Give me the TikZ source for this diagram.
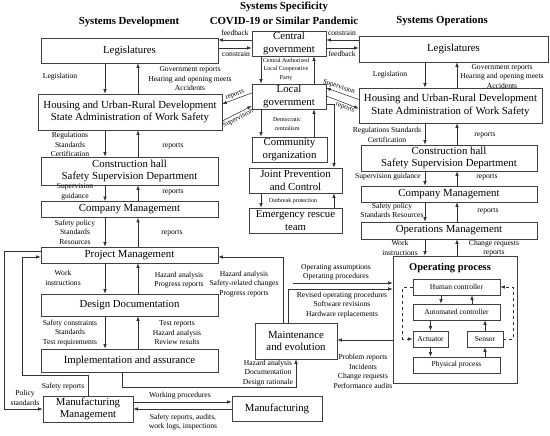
\documentclass[tikz,border=0pt]{standalone}
\usepackage{fontspec}
\setmainfont{Liberation Serif}
\usepackage{tikz}
\usepackage{xcolor}
\usetikzlibrary{arrows.meta}

\tikzset{
  >={Latex[length=4.5pt,width=3.4pt]},
  box/.style={draw=black!75, align=center, inner sep=1pt,
    font=\fontsize{10.8}{12.5}\selectfont},
  inbox/.style={draw=black!75, align=center, inner sep=1pt, minimum height=16,
    font=\fontsize{7.5}{8.5}\selectfont},
  lbl/.style={align=center, inner sep=0pt, font=\fontsize{7.6}{9.5}\selectfont},
  tlbl/.style={align=center, inner sep=0pt, font=\fontsize{6}{8.3}\selectfont},
  rot/.style={inner sep=0pt, font=\fontsize{7}{8}\selectfont},
  ttl/.style={inner sep=0pt, font=\bfseries\fontsize{10.8}{12}\selectfont},
}

\begin{document}
\begin{tikzpicture}[x=1pt,y=-1pt,line width=.55pt,draw=black!80]
  \useasboundingbox (0,0) rectangle (550,436);

  % titles
  \node (tdev) [ttl] at (129,22) {Systems Development};
  \node (tspc) [ttl] at (284,7) {Systems Specificity};
  \node (tcov) [ttl] at (284,21) {COVID-19 or Similar Pandemic};
  \node (tops) [ttl] at (442,21) {Systems Operations};

  % systems development
  \node (legL) [box, minimum width=177, minimum height=25] at (129.5,50.5) {Legislatures};
  \node (hudL) [box, minimum width=184, minimum height=36] at (130,112)
    {Housing and Urban-Rural Development\\State Administration of Work Safety};
  \node (chL) [box, minimum width=177, minimum height=28] at (129.5,171)
    {Construction hall\\Safety Supervision Department};
  \node (cmL) [box, minimum width=177, minimum height=16] at (129.5,209.5) {Company Management};
  \node (pmL) [box, minimum width=177, minimum height=16] at (129.5,255) {Project Management};
  \node (dd) [box, minimum width=177, minimum height=22] at (129.5,305) {Design Documentation};
  \node (ia) [box, minimum width=177, minimum height=23] at (129.5,360.5) {Implementation and assurance};
  \node (mm) [box, minimum width=90, minimum height=26] at (88,409) {Manufacturing\\Management};
  \node (mf) [box, minimum width=90, minimum height=25] at (277,408.5) {Manufacturing};
  \node (me) [box, minimum width=82, minimum height=36] at (296,341) {Maintenance\\and evolution};

  % systems specificity
  \node (cg) [box, minimum width=74, minimum height=25] at (289,43.5) {Central\\government};
  \node (lg) [box, minimum width=74, minimum height=25] at (289,96.5) {Local\\government};
  \node (co) [box, minimum width=75, minimum height=25] at (289.5,149.5) {Community\\organization};
  \node (jpc) [box, minimum width=93, minimum height=25] at (295.5,180.5) {Joint Prevention\\and Control};
  \node (ert) [box, minimum width=93, minimum height=25] at (295.5,220.5) {Emergency rescue\\team};

  % systems operations
  \node (legR) [box, minimum width=189, minimum height=26] at (453.5,49) {Legislatures};
  \node (hudR) [box, minimum width=183, minimum height=35] at (450.5,105.5)
    {Housing and Urban-Rural Development\\State Administration of Work Safety};
  \node (chR) [box, minimum width=176, minimum height=26] at (449,158)
    {Construction hall\\Safety Supervision Department};
  \node (cmR) [box, minimum width=176, minimum height=16] at (449,194) {Company Management};
  \node (omR) [box, minimum width=176, minimum height=17] at (449,230.5) {Operations Management};
  \node (op) [draw=black!75, minimum width=124, minimum height=127] at (455,319.5) {};
  \node (opt) [inner sep=0pt, font=\bfseries\fontsize{10.5}{12}\selectfont] at (450,268) {Operating process};
  \node (hc) [inbox, minimum width=87] at (456.5,287) {Human controller};
  \node (ac) [inbox, minimum width=87] at (456.5,312) {Automated controller};
  \node (act) [inbox, minimum width=35] at (430.5,339) {Actuator};
  \node (sen) [inbox, minimum width=36] at (485,339) {Sensor};
  \node (pp) [inbox, minimum width=87] at (456.5,365) {Physical process};

  \path (105,0) coordinate (dnL) (138,0) coordinate (upL)
    (261,0) coordinate (dnM) (314,0) coordinate (upM) (334,0) coordinate (upJ)
    (425,0) coordinate (dnR) (457,0) coordinate (upR);

  % left column
  \draw[->] (legL.south -| dnL) -- (hudL.north -| dnL);
  \draw[->] (hudL.north -| upL) -- (legL.south -| upL);
  \draw[->] (hudL.south -| dnL) -- (chL.north -| dnL);
  \draw[->] (chL.north -| upL) -- (hudL.south -| upL);
  \draw[->] (chL.south -| dnL) -- (cmL.north -| dnL);
  \draw[->] (cmL.north -| upL) -- (chL.south -| upL);
  \draw[->] (cmL.south -| dnL) -- (pmL.north -| dnL);
  \draw[->] (pmL.north -| upL) -- (cmL.south -| upL);
  \draw[->] (pmL.south -| dnL) -- (dd.north -| dnL);
  \draw[->] (dd.north -| upL) -- (pmL.south -| upL);
  \draw[->] (dd.south -| dnL) -- (ia.north -| dnL);
  \draw[->] (ia.north -| upL) -- (dd.south -| upL);

  \node (lgsL) [lbl] at (60,77) {Legislation};
  \node (grL) [lbl] at (190,79) {Government reports\\Hearing and opening meets\\Accidents};
  \node (rscL) [lbl] at (70,144.5) {Regulations\\Standards\\Certification};
  \node (rp1L) [lbl] at (173,146) {reports};
  \node (sgL) [lbl] at (75,192) {Supervision\\guidance};
  \node (rp2L) [lbl] at (173,192) {reports};
  \node (spL) [lbl] at (75,232) {Safety policy\\Standards\\Resources};
  \node (rp3L) [lbl] at (172,233) {reports};
  \node (wiL) [lbl] at (63,278) {Work\\instructions};
  \node (haL) [lbl] at (179,280) {Hazard analysis\\Progress reports};
  \node (hsL) [lbl] at (244,284) {Hazard analysis\\Safety-related changes\\Progress reports};
  \node (scL) [lbl] at (70,333) {Safety constraints\\Standards\\Test requirements};
  \node (trL) [lbl] at (177,333) {Test reports\\Hazard analysis\\Review results};
  \node (srL) [lbl] at (63,387) {Safety reports};
  \node (psL) [lbl] at (25,398) {Policy\\standards};
  \node (wpL) [lbl] at (180,396) {Working procedures};
  \node (saL) [lbl] at (183,422) {Safety reports, audits,\\work logs, inspections};
  \node (hdL) [lbl] at (268,373) {Hazard analysis\\Documentation\\Design rationale};

  % loops round the development side
  \draw[->] ([yshift=4pt]pmL.west) -- ++(-36,0) |- (mm.west);
  \draw[->] (mm.north) -- ++(0,-20) -- ++(-66,0) |- ([yshift=-2pt]pmL.west);
  \path ([yshift=7pt]mm.east) coordinate (mme);
  \draw[->] (mme) -- (mme -| mf.west);
  \draw[->] (mm.east -| mf.west) -- (mm.east);
  \draw[->] ([xshift=-7.5pt]ia.south) -- ++(0,15) -| (me.south);
  \draw[->] ([xshift=-13pt]me.north) |- ([yshift=-2pt]pmL.east);
  \draw[->] ([xshift=-8pt]me.north) |- ([yshift=30.5pt]op.west);
  \path (293,283) coordinate (opa);
  \draw[->] (opa) -- (opa -| op.west);
  \path ([yshift=-20.5pt]op.west) coordinate (opw);
  \draw[->] (opw) -- (opw -| me.east);

  % middle column
  \draw[->] (cg.south -| dnM) -- (lg.north -| dnM);
  \draw[->] (lg.north -| upM) -- (cg.south -| upM);
  \draw[->] (lg.south -| dnM) -- (co.north -| dnM);
  \draw[->] (co.north -| upM) -- (lg.south -| upM);
  \draw[->] ([yshift=-8pt]lg.east) -| (jpc.north -| upJ);
  \draw[->] (jpc.south -| dnM) -- (ert.north -| dnM);
  \draw[->] (ert.north -| upJ) -- (jpc.south -| upJ);

  \node (capM) [tlbl] at (286,69.5) {Central Authorized\\Local Cooperative\\Party};
  \node (dcM) [tlbl] at (287,124) {Democratic\\centralism};
  \node (obM) [tlbl] at (293,201) {Outbreak protection};

  \path ([yshift=3.5pt]cg.west) coordinate (cgw1) ([yshift=-4.5pt]cg.west) coordinate (cgw2);
  \draw[->] (cgw1) -- (cgw1 -| legL.east);
  \draw[->] (cgw2 -| legL.east) -- (cgw2);
  \path ([yshift=3.5pt]cg.east) coordinate (cge1) ([yshift=-4.5pt]cg.east) coordinate (cge2);
  \draw[->] (cge1 -| legR.west) -- (cge1);
  \draw[->] (cge2) -- (cge2 -| legR.west);
  \node (fbL) [lbl] at (235,33) {feedback};
  \node (csL) [lbl] at (236,54) {constrain};
  \node (csR) [lbl] at (342,33) {constrain};
  \node (fbR) [lbl] at (342,54) {feedback};

  \draw[->] ([yshift=3.5pt]lg.west) -- ([yshift=8pt]hudL.east);
  \draw[->] ([yshift=-9pt]hudL.east) -- ([yshift=-9.5pt]lg.west);
  \draw[->] ([yshift=6pt]hudR.west) -- ([yshift=8.5pt]lg.east);
  \draw[->] ([yshift=.5pt]lg.east) -- ([yshift=-3pt]hudR.west);
  \node (rpL) [rot, rotate=21] at (235,95) {reports};
  \node (svL) [rot, rotate=27] at (238,118.5) {Supervision};
  \node (svR) [rot, rotate=-19] at (339,87) {Supervision};
  \node (rpR) [rot, rotate=-21] at (345,108) {reports};

  % right column
  \draw[->] (legR.south -| dnR) -- (hudR.north -| dnR);
  \draw[->] (hudR.north -| upR) -- (legR.south -| upR);
  \draw[->] (hudR.south -| dnR) -- (chR.north -| dnR);
  \draw[->] (chR.north -| upR) -- (hudR.south -| upR);
  \draw[->] (chR.south -| dnR) -- (cmR.north -| dnR);
  \draw[->] (cmR.north -| upR) -- (chR.south -| upR);
  \draw[->] (cmR.south -| dnR) -- (omR.north -| dnR);
  \draw[->] (omR.north -| upR) -- (cmR.south -| upR);
  \draw[->] (omR.south -| dnR) -- (op.north -| dnR);
  \draw[->] (op.north -| upR) -- (omR.south -| upR);

  \node (lgsR) [lbl] at (390,75) {Legislation};
  \node (grR) [lbl] at (502,76.5) {Government reports\\Hearing and opening meets\\Accidents};
  \node (rscR) [lbl] at (387,135) {Regulations Standards\\Certification};
  \node (rp1R) [lbl] at (485,135) {reports};
  \node (sgR) [lbl] at (388,177) {Supervision guidance};
  \node (rp2R) [lbl] at (487,177) {reports};
  \node (spR) [lbl] at (392,210.5) {Safety policy\\Standards Resources};
  \node (rp3R) [lbl] at (488,211) {reports};
  \node (wiR) [lbl] at (400,248) {Work\\instructions};
  \node (crR) [lbl] at (494,248) {Change requests\\reports};
  \node (oaR) [lbl] at (336,272.5) {Operating assumptions\\Operating procedures};
  \node (roR) [lbl] at (342,305) {Revised operating procedures\\Software revisions\\Hardware replacements};
  \node (prR) [lbl] at (363,371.5) {Problem reports\\Incidents\\Change requests\\Performance audits};

  % operating process
  \draw[->] ([xshift=-15.5pt]hc.south) -- ([xshift=-15.5pt]ac.north);
  \draw[->] ([xshift=15.5pt]ac.north) -- ([xshift=15.5pt]hc.south);
  \draw[->] (ac.south -| act.north) -- (act.north);
  \draw[->] (sen.north) -- (sen.north |- ac.south);
  \draw[->] (act.south) -- (act.south |- pp.north);
  \draw[->] (pp.north -| sen.south) -- (sen.south);
  \draw[->, dashed] (hc.west) -- ++(-10,0) |- (act.west);
  \draw[->, dashed] (sen.east) -- ++(10,0) |- (hc.east);
\end{tikzpicture}
\end{document}
